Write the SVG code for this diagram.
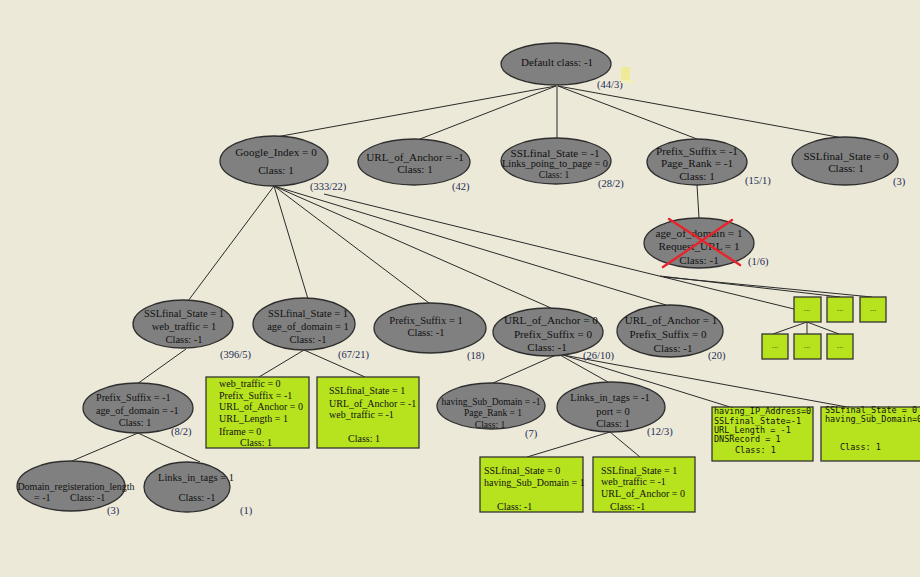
<svg xmlns="http://www.w3.org/2000/svg" width="920" height="577" viewBox="0 0 920 577">
  <style>
    .bg { fill: #ECE9D8; }
    .edge { stroke: #2a2a2a; stroke-width: 1; fill: none; }
    .node ellipse { fill: #808080; stroke: #2e2e2e; stroke-width: 1.3; }
    .leaf rect { fill: #B7E31E; stroke: #333333; stroke-width: 1.3; }
    .t { font-family: "Liberation Serif", "Times New Roman", serif; font-size: 10.5px; fill: #111; }
    .c { text-anchor: middle; }
    .l { font-size: 11.2px; }
    .s { font-size: 9.5px; }
    .s2 { font-size: 10.3px; }
    .g { font-size: 10px; }
    .n { font-family: "Liberation Serif", "Times New Roman", serif; font-size: 10.5px; fill: #1c2a55; }
    .m { font-family: "DejaVu Sans Mono", "Liberation Mono", monospace; font-size: 8.5px; fill: #111; }
    .dots { font-family: "Liberation Sans", Arial, sans-serif; font-size: 8px; fill: #222; text-anchor: middle; }
    .cross { stroke: #E8232B; stroke-width: 2.4; stroke-linecap: round; }
  </style>

  <rect class="bg" x="0" y="0" width="920" height="577"/>

  <!-- connectors -->
  <g id="connectors">
    <!-- root fan -->
    <line class="edge" x1="556" y1="86" x2="276" y2="137"/>
    <line class="edge" x1="556" y1="86" x2="420" y2="139"/>
    <line class="edge" x1="557" y1="86" x2="557" y2="138"/>
    <line class="edge" x1="558" y1="86" x2="697" y2="139"/>
    <line class="edge" x1="558" y1="86" x2="843" y2="138"/>
    <!-- Google_Index fan -->
    <line class="edge" x1="274" y1="186" x2="188" y2="301"/>
    <line class="edge" x1="274" y1="186" x2="308" y2="299"/>
    <line class="edge" x1="274" y1="186" x2="429" y2="303"/>
    <line class="edge" x1="274" y1="186" x2="551" y2="308"/>
    <line class="edge" x1="274" y1="186" x2="666" y2="305"/>
    <line class="edge" x1="324" y1="194" x2="794" y2="309"/>
    <line class="edge" x1="660" y1="276" x2="840" y2="297"/>
    <line class="edge" x1="664" y1="277" x2="872" y2="297"/>
    <!-- collapsed subtree -->
    <line class="edge" x1="807" y1="322" x2="773" y2="334"/>
    <line class="edge" x1="807" y1="322" x2="807" y2="334"/>
    <line class="edge" x1="807" y1="322" x2="839" y2="334"/>
    <!-- pruned branch -->
    <line class="edge" x1="697" y1="185" x2="699" y2="218"/>
    <!-- second level -->
    <line class="edge" x1="186" y1="349" x2="137" y2="384"/>
    <line class="edge" x1="304" y1="350" x2="259" y2="377"/>
    <line class="edge" x1="304" y1="350" x2="365" y2="377"/>
    <line class="edge" x1="556" y1="355" x2="493" y2="383"/>
    <line class="edge" x1="560" y1="355" x2="608" y2="382"/>
    <line class="edge" x1="563" y1="355" x2="730" y2="407"/>
    <line class="edge" x1="563" y1="355" x2="847" y2="407"/>
    <!-- third level -->
    <line class="edge" x1="138" y1="433" x2="72" y2="461"/>
    <line class="edge" x1="138" y1="433" x2="200" y2="462"/>
    <line class="edge" x1="610" y1="432" x2="527" y2="457"/>
    <line class="edge" x1="610" y1="432" x2="640" y2="457"/>
  </g>

  <!-- root -->
  <g id="root" class="node">
    <ellipse cx="556" cy="64" rx="55" ry="21"/>
    <text class="t c" x="557" y="66" style="font-size:11px">Default class: -1</text>
    <text class="n" x="597" y="88">(44/3)</text>
    <rect x="621" y="67" width="9" height="14" fill="#EFEA98"/>
    <rect x="621" y="80" width="13" height="3" fill="#F3EFB8"/>
  </g>

  <!-- first level -->
  <g id="google-index" class="node">
    <ellipse cx="274" cy="161" rx="54" ry="25"/>
    <text class="t c l" x="276" y="156">Google_Index = 0</text>
    <text class="t c l" x="276" y="174">Class: 1</text>
    <text class="n" x="310" y="190">(333/22)</text>
  </g>
  <g id="url-anchor-m1" class="node">
    <ellipse cx="414" cy="162" rx="56" ry="23"/>
    <text class="t c l" x="415" y="161">URL_of_Anchor = -1</text>
    <text class="t c l" x="415" y="173">Class: 1</text>
    <text class="n" x="452" y="190">(42)</text>
  </g>
  <g id="ssl-m1" class="node">
    <ellipse cx="556" cy="161" rx="55" ry="23"/>
    <text class="t c l" x="555" y="157">SSLfinal_State = -1</text>
    <text class="t c s2" x="555" y="167">Links_poing_to_page = 0</text>
    <text class="t c s" x="554" y="178">Class: 1</text>
    <text class="n" x="598" y="187">(28/2)</text>
  </g>
  <g id="prefix-m1" class="node">
    <ellipse cx="697" cy="162" rx="50" ry="23"/>
    <text class="t c l" x="697" y="155">Prefix_Suffix = -1</text>
    <text class="t c l" x="697" y="167">Page_Rank = -1</text>
    <text class="t c l" x="697" y="180">Class: 1</text>
    <text class="n" x="745" y="184">(15/1)</text>
  </g>
  <g id="ssl-0" class="node">
    <ellipse cx="845" cy="161" rx="53" ry="24"/>
    <text class="t c l" x="846" y="160">SSLfinal_State = 0</text>
    <text class="t c l" x="846" y="172">Class: 1</text>
    <text class="n" x="893" y="185">(3)</text>
  </g>

  <!-- pruned node -->
  <g id="pruned" class="node">
    <ellipse cx="699" cy="243" rx="55" ry="25"/>
    <text class="t c l" x="699" y="237">age_of_domain = 1</text>
    <text class="t c l" x="699" y="250">Request_URL = 1</text>
    <text class="t c l" x="699" y="264">Class: -1</text>
    <line class="cross" x1="669" y1="219" x2="740" y2="265"/>
    <line class="cross" x1="732" y1="220" x2="663" y2="267"/>
    <text class="n" x="748" y="265">(1/6)</text>
  </g>

  <!-- collapsed subtree boxes -->
  <g id="collapsed-1" class="leaf"><rect x="794" y="297" width="27" height="25"/><text class="dots" x="807" y="311">...</text></g>
  <g id="collapsed-2" class="leaf"><rect x="827" y="297" width="26" height="25"/><text class="dots" x="840" y="311">...</text></g>
  <g id="collapsed-3" class="leaf"><rect x="860" y="297" width="26" height="25"/><text class="dots" x="873" y="311">...</text></g>
  <g id="collapsed-4" class="leaf"><rect x="762" y="334" width="26" height="25"/><text class="dots" x="775" y="348">...</text></g>
  <g id="collapsed-5" class="leaf"><rect x="794" y="334" width="27" height="25"/><text class="dots" x="807" y="348">...</text></g>
  <g id="collapsed-6" class="leaf"><rect x="827" y="334" width="26" height="25"/><text class="dots" x="840" y="348">...</text></g>

  <!-- second level -->
  <g id="ssl-1-web" class="node">
    <ellipse cx="183" cy="324" rx="50" ry="24"/>
    <text class="t c" x="184" y="317">SSLfinal_State = 1</text>
    <text class="t c" x="184" y="330">web_traffic = 1</text>
    <text class="t c" x="184" y="343">Class: -1</text>
    <text class="n" x="220" y="358">(396/5)</text>
  </g>
  <g id="ssl-1-age" class="node">
    <ellipse cx="304" cy="324" rx="51" ry="26"/>
    <text class="t c" x="308" y="317">SSLfinal_State = 1</text>
    <text class="t c" x="308" y="330">age_of_domain = 1</text>
    <text class="t c" x="308" y="343">Class: -1</text>
    <text class="n" x="338" y="358">(67/21)</text>
  </g>
  <g id="prefix-1" class="node">
    <ellipse cx="430" cy="328" rx="56" ry="25"/>
    <text class="t c" x="426" y="324">Prefix_Suffix = 1</text>
    <text class="t c" x="426" y="336">Class: -1</text>
    <text class="n" x="467" y="359">(18)</text>
  </g>
  <g id="url-anchor-0" class="node">
    <ellipse cx="548" cy="332" rx="55" ry="24"/>
    <text class="t c l" x="551" y="324">URL_of_Anchor = 0</text>
    <text class="t c l" x="553" y="338">Prefix_Suffix = 0</text>
    <text class="t c l" x="547" y="351">Class: -1</text>
    <text class="n" x="583" y="359">(26/10)</text>
  </g>
  <g id="url-anchor-1" class="node">
    <ellipse cx="670" cy="331" rx="53" ry="26"/>
    <text class="t c" x="671" y="324" style="font-size:11px">URL_of_Anchor = 1</text>
    <text class="t c" x="668" y="338" style="font-size:11px">Prefix_Suffix = 0</text>
    <text class="t c" x="673" y="352" style="font-size:11px">Class: -1</text>
    <text class="n" x="708" y="359">(20)</text>
  </g>

  <!-- third level -->
  <g id="prefix-m1-age" class="node">
    <ellipse cx="138" cy="408" rx="55" ry="25"/>
    <text class="t" x="96" y="401" style="font-size:10.2px">Prefix_Suffix = -1</text>
    <text class="t" x="96" y="414" style="font-size:10.2px">age_of_domain = -1</text>
    <text class="t c" x="135" y="426" style="font-size:10.2px">Class: 1</text>
    <text class="n" x="171" y="435">(8/2)</text>
  </g>
  <g id="leaf-web-traffic" class="leaf">
    <rect x="206" y="377" width="103" height="71"/>
    <text class="t g" x="219" y="386.5">web_traffic = 0</text>
    <text class="t g" x="219" y="398.5">Prefix_Suffix = -1</text>
    <text class="t g" x="219" y="410">URL_of_Anchor = 0</text>
    <text class="t g" x="219" y="422">URL_Length = 1</text>
    <text class="t g" x="219" y="434.5">Iframe = 0</text>
    <text class="t g c" x="256" y="446">Class: 1</text>
  </g>
  <g id="leaf-ssl-1" class="leaf">
    <rect x="317" y="377" width="102" height="71"/>
    <text class="t g" x="329" y="393.5">SSLfinal_State = 1</text>
    <text class="t g" x="329" y="406.5">URL_of_Anchor = -1</text>
    <text class="t g" x="329" y="418">web_traffic = -1</text>
    <text class="t g c" x="364" y="442">Class: 1</text>
  </g>
  <g id="sub-domain-m1" class="node">
    <ellipse cx="491" cy="406" rx="54" ry="23"/>
    <text class="t c s" x="491" y="404.5">having_Sub_Domain = -1</text>
    <text class="t c s" x="493" y="415.5">Page_Rank = 1</text>
    <text class="t c s" x="490" y="427.5">Class: 1</text>
    <text class="n" x="525" y="436.5">(7)</text>
  </g>
  <g id="links-tags-m1" class="node">
    <ellipse cx="611" cy="407" rx="54" ry="25"/>
    <text class="t c" x="610" y="401">Links_in_tags = -1</text>
    <text class="t c" x="613" y="415">port = 0</text>
    <text class="t c" x="613" y="427">Class: 1</text>
    <text class="n" x="647" y="435">(12/3)</text>
  </g>
  <g id="leaf-ip-address" class="leaf">
    <rect x="712" y="407" width="101" height="54"/>
    <text class="m" x="714" y="414">having_IP_Address=0</text>
    <text class="m" x="714" y="423.5">SSLfinal_State=-1</text>
    <text class="m" x="714" y="433">URL_Length = -1</text>
    <text class="m" x="714" y="442">DNSRecord = 1</text>
    <text class="m" x="735" y="453">Class: 1</text>
  </g>
  <g id="leaf-ssl-0" class="leaf">
    <rect x="821" y="407" width="104" height="54"/>
    <text class="m" x="825" y="413">SSLfinal_State = 0</text>
    <text class="m" x="825" y="422">having_Sub_Domain=0</text>
    <text class="m" x="840" y="450">Class: 1</text>
  </g>

  <!-- fourth level -->
  <g id="domain-reg" class="node">
    <ellipse cx="71" cy="486" rx="54" ry="25"/>
    <text class="t c g" x="76" y="490">Domain_registeration_length</text>
    <text class="t g" x="34" y="501">= -1</text>
    <text class="t g" x="70" y="501">Class: -1</text>
    <text class="n" x="107" y="514">(3)</text>
  </g>
  <g id="links-tags-1" class="node">
    <ellipse cx="187" cy="487" rx="43" ry="25"/>
    <text class="t c" x="196" y="481">Links_in_tags = 1</text>
    <text class="t c" x="197" y="501">Class: -1</text>
    <text class="n" x="240" y="514">(1)</text>
  </g>
  <g id="leaf-ssl-0-sub" class="leaf">
    <rect x="480" y="457" width="103" height="55"/>
    <text class="t g" x="484" y="473.5">SSLfinal_State = 0</text>
    <text class="t g" x="484" y="485.5">having_Sub_Domain = 1</text>
    <text class="t g" x="497" y="509.5">Class: -1</text>
  </g>
  <g id="leaf-ssl-1-web" class="leaf">
    <rect x="593" y="457" width="102" height="55"/>
    <text class="t g" x="601" y="473.5">SSLfinal_State = 1</text>
    <text class="t g" x="601" y="484.5">web_traffic = -1</text>
    <text class="t g" x="601" y="496.5">URL_of_Anchor = 0</text>
    <text class="t g" x="610" y="509.5">Class: -1</text>
  </g>
</svg>
